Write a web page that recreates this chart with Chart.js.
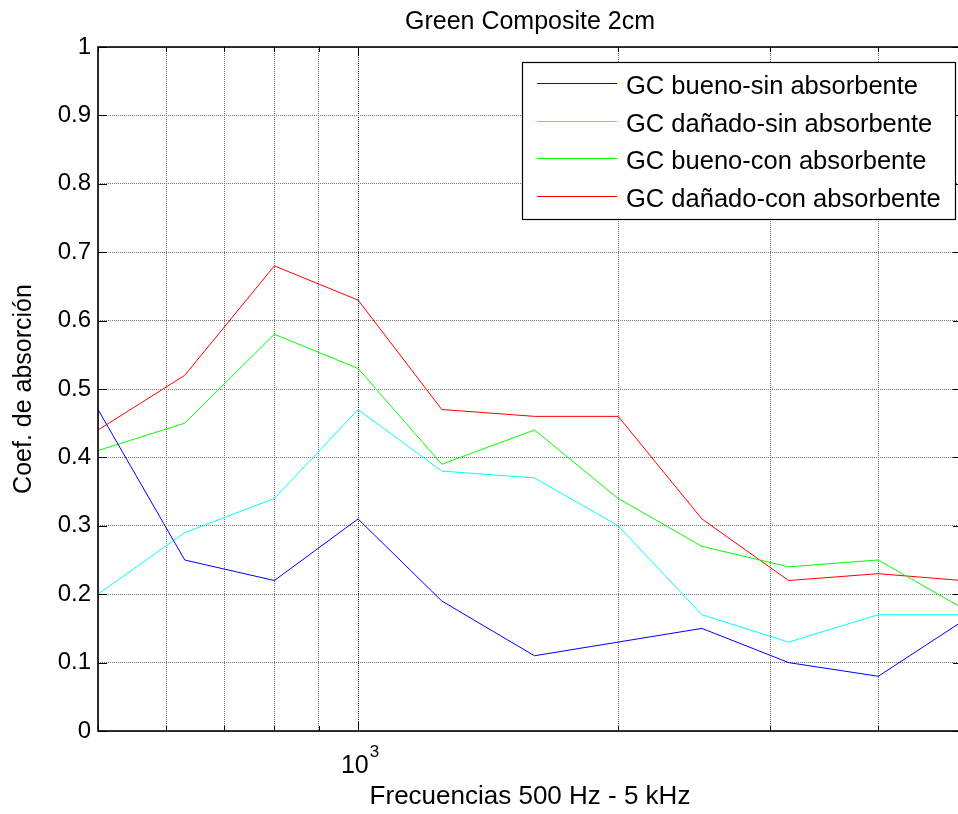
<!DOCTYPE html>
<html>
<head>
<meta charset="utf-8">
<title>Green Composite 2cm</title>
<script src="https://cdn.jsdelivr.net/npm/chart.js@4/dist/chart.umd.min.js"></script>
<style>
  html, body { margin: 0; padding: 0; background: #ffffff; overflow: hidden; }
  #wrap { width: 958px; height: 814px; overflow: hidden; }
  #chart { display: block; }
</style>
</head>
<body>
<div id="wrap"><canvas id="chart" width="964" height="814"></canvas></div>
<script>
// Third-octave band centre frequencies (Hz)
const frecuencias = [500, 630, 800, 1000, 1250, 1600, 2000, 2500, 3150, 4000, 5000];

// Absorption coefficient per band
const gcBuenoSin   = [0.47, 0.25, 0.22, 0.31, 0.19, 0.11, 0.13, 0.15, 0.10, 0.08, 0.16];
const gcDanadoSin  = [0.20, 0.29, 0.34, 0.47, 0.38, 0.37, 0.30, 0.17, 0.13, 0.17, 0.17];
const gcBuenoCon   = [0.41, 0.45, 0.58, 0.53, 0.39, 0.44, 0.34, 0.27, 0.24, 0.25, 0.18];
const gcDanadoCon  = [0.44, 0.52, 0.68, 0.63, 0.47, 0.46, 0.46, 0.31, 0.22, 0.23, 0.22];

const seriesNames = [
  'GC bueno-sin absorbente',
  'GC dañado-sin absorbente',
  'GC bueno-con absorbente',
  'GC dañado-con absorbente'
];

// Log-axis tick positions (grid) and the single labelled decade
const xGridTicks = [500, 600, 700, 800, 900, 1000, 2000, 3000, 4000, 5000];
const xDecade = 1000;

const FONT = "'Liberation Sans', Arial, Helvetica, sans-serif";
const colors = ['#0000ff', '#00ffff', '#00ff00', '#ff0000'];
const allSeries = [gcBuenoSin, gcDanadoSin, gcBuenoCon, gcDanadoCon];

const datasets = allSeries.map((vals, i) => ({
  label: seriesNames[i],
  data: frecuencias.map((f, k) => ({ x: f, y: vals[k] })),
  borderColor: colors[i],
  backgroundColor: colors[i],
  borderWidth: 1,
  pointRadius: 0,
  tension: 0,
  fill: false
}));

// White page background
const background = {
  id: 'background',
  beforeDraw(chart) {
    const { ctx } = chart;
    ctx.save();
    ctx.fillStyle = '#ffffff';
    ctx.fillRect(0, 0, chart.width, chart.height);
    ctx.restore();
  }
};

// Axes box, inward tick marks and the 10^3 decade label
const axesBox = {
  id: 'axesBox',
  afterDatasetsDraw(chart) {
    const { ctx, chartArea: a, scales } = chart;
    const xs = scales.x, ys = scales.y;
    ctx.save();
    ctx.strokeStyle = '#000000';
    ctx.lineWidth = 1;
    ctx.beginPath();
    // x ticks, top and bottom
    xs.ticks.forEach(t => {
      const px = Math.round(xs.getPixelForValue(t.value)) + 0.5;
      const len = t.value === xDecade ? 9 : 5;
      ctx.moveTo(px, a.bottom); ctx.lineTo(px, a.bottom - len);
      ctx.moveTo(px, a.top); ctx.lineTo(px, a.top + len);
    });
    // y ticks, left and right
    ys.ticks.forEach(t => {
      const py = Math.round(ys.getPixelForValue(t.value)) + 0.5;
      ctx.moveTo(a.left, py); ctx.lineTo(a.left + 9, py);
      ctx.moveTo(a.right, py); ctx.lineTo(a.right - 9, py);
    });
    ctx.stroke();
    // box
    ctx.lineWidth = 1.6;
    ctx.strokeRect(a.left, a.top, a.right - a.left, a.bottom - a.top);

    // decade label "10" with superscript exponent
    const px = xs.getPixelForValue(xDecade);
    ctx.fillStyle = '#000000';
    ctx.textBaseline = 'alphabetic';
    ctx.textAlign = 'left';
    ctx.font = '25px ' + FONT;
    const base = '10';
    const wBase = ctx.measureText(base).width;
    ctx.font = '17px ' + FONT;
    const exp = '3';
    const wExp = ctx.measureText(exp).width;
    const x0 = px + 2 - (wBase + wExp + 1) / 2;
    ctx.font = '25px ' + FONT;
    ctx.fillText(base, x0, a.bottom + 42);
    ctx.font = '17px ' + FONT;
    ctx.fillText(exp, x0 + wBase + 1, a.bottom + 26);
    ctx.restore();
  }
};

// Boxed legend in the upper right of the axes
const boxedLegend = {
  id: 'boxedLegend',
  afterDraw(chart) {
    const { ctx, chartArea: a } = chart;
    const right = a.right - 7;
    const top = a.top + 15;
    const w = 433, h = 157;
    const left = right - w;
    ctx.save();
    ctx.fillStyle = '#ffffff';
    ctx.fillRect(left, top, w, h);
    ctx.strokeStyle = '#000000';
    ctx.lineWidth = 1.2;
    ctx.strokeRect(left + 0.5, top + 0.5, w, h);
    ctx.font = '25.5px ' + FONT;
    ctx.textBaseline = 'middle';
    ctx.textAlign = 'left';
    chart.data.datasets.forEach((ds, i) => {
      const y = Math.round(top + 21 + i * 37.7) + 0.5;
      ctx.strokeStyle = ds.borderColor;
      ctx.lineWidth = 1;
      ctx.beginPath();
      ctx.moveTo(Math.round(left) + 15, y);
      ctx.lineTo(Math.round(left) + 95, y);
      ctx.stroke();
      ctx.fillStyle = '#000000';
      ctx.fillText(ds.label, left + 104, y + 3.5);
    });
    ctx.restore();
  }
};

const chart = new Chart(document.getElementById('chart'), {
  type: 'line',
  data: { datasets },
  plugins: [background, axesBox, boxedLegend],
  options: {
    responsive: false,
    animation: false,
    devicePixelRatio: 1,
    layout: { padding: { left: 0, right: 2, top: 0, bottom: 0 } },
    plugins: {
      legend: { display: false },
      tooltip: { enabled: false },
      title: {
        display: true,
        fullSize: false,
        text: 'Green Composite 2cm',
        color: '#000000',
        font: { family: FONT, size: 25, weight: 'normal' },
        padding: { top: 7.5, bottom: 9.5 }
      }
    },
    scales: {
      x: {
        type: 'logarithmic',
        min: 500,
        max: 5000,
        afterBuildTicks(scale) {
          scale.ticks = xGridTicks.map(v => ({ value: v }));
        },
        afterFit(scale) { scale.height = 83; },
        ticks: { display: false, autoSkip: false },
        grid: {
          drawTicks: false,
          color: ctx => (ctx.tick && ctx.tick.value === xDecade) ? '#2a2a2a' : '#747474'
        },
        border: { display: false, dash: [1, 1] },
        title: {
          display: true,
          text: 'Frecuencias 500 Hz - 5 kHz',
          color: '#000000',
          font: { family: FONT, size: 26, weight: 'normal' },
          padding: { top: 0, bottom: 2 }
        }
      },
      y: {
        min: 0,
        max: 1,
        afterFit(scale) { scale.width = 98; },
        ticks: {
          stepSize: 0.1,
          padding: 7,
          color: '#000000',
          font: { family: FONT, size: 24 },
          callback: v => String(Number(v.toFixed(1)))
        },
        grid: { drawTicks: false, color: '#747474' },
        border: { display: false, dash: [1, 1] },
        title: {
          display: true,
          text: 'Coef. de absorción',
          color: '#000000',
          font: { family: FONT, size: 25, weight: 'normal' },
          padding: { top: 9, bottom: 0 }
        }
      }
    }
  }
});
</script>
</body>
</html>
